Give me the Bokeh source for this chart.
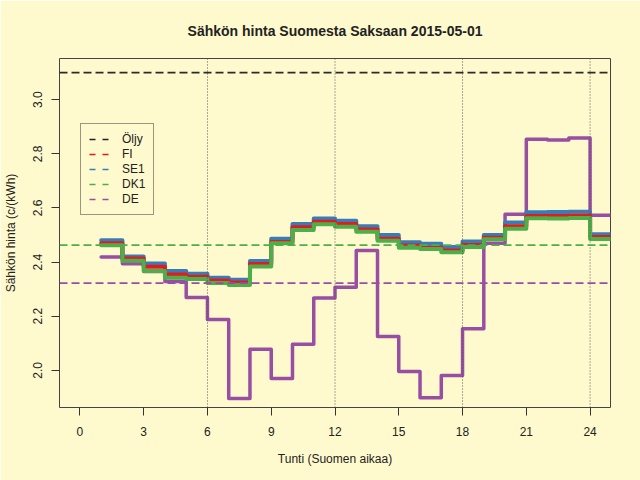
from bokeh.plotting import figure
from bokeh.models import Span, Legend, LegendItem, FixedTicker, NumeralTickFormatter, Range1d
from bokeh.embed import file_html
from bokeh.resources import INLINE

# ---- data ----
hours = list(range(1, 25))
fi  = [2.470, 2.413, 2.383, 2.354, 2.346, 2.332, 2.325, 2.393, 2.474, 2.529, 2.549, 2.541,
       2.520, 2.486, 2.461, 2.454, 2.443, 2.463, 2.490, 2.532, 2.570, 2.570, 2.572, 2.493]
se1 = [2.481, 2.421, 2.395, 2.367, 2.357, 2.342, 2.335, 2.404, 2.486, 2.541, 2.561, 2.553,
       2.532, 2.500, 2.473, 2.468, 2.456, 2.476, 2.500, 2.546, 2.584, 2.585, 2.586, 2.503]
dk1 = [2.462, 2.405, 2.367, 2.342, 2.338, 2.323, 2.315, 2.384, 2.470, 2.519, 2.540, 2.531,
       2.512, 2.479, 2.453, 2.448, 2.436, 2.456, 2.484, 2.523, 2.562, 2.561, 2.563, 2.485]
de  = [2.419, 2.394, 2.365, 2.328, 2.269, 2.188, 1.896, 2.078, 1.970, 2.097, 2.267, 2.307,
       2.443, 2.125, 1.996, 1.899, 1.981, 2.154, 2.470, 2.577, 2.854, 2.851, 2.858, 2.573]
oil_price = 3.10
dk1_mean = 2.463
de_mean = 2.322
x_ticks = [0, 3, 6, 9, 12, 15, 18, 21, 24]
y_ticks = [2.0, 2.2, 2.4, 2.6, 2.8, 3.0]
day_marks = [6, 12, 18, 24]
series_names = ["Öljy", "FI", "SE1", "DK1", "DE"]

BG = "#FFFACD"
FONT = "Liberation Sans"
TXT = "#222222"
C_FI, C_SE1, C_DK1, C_DE = "#E41A1C", "#377EB8", "#4DAF4A", "#984EA3"

p = figure(width=640, height=480, output_backend="svg", toolbar_location=None,
           x_range=Range1d(-0.96, 24.96), y_range=Range1d(1.863, 3.152),
           min_border_left=59, min_border_right=30, min_border_top=58, min_border_bottom=73,
           background_fill_color=BG, border_fill_color=BG,
           title="Sähkön hinta Suomesta Saksaan 2015-05-01")

p.grid.visible = False
p.outline_line_color = "#444444"
p.outline_line_width = 1

p.title.align = "center"
p.title.text_font = FONT
p.title.text_font_size = "14px"
p.title.text_font_style = "bold"
p.title.text_color = TXT
p.title.standoff = 40

for ax in (p.xaxis[0], p.yaxis[0]):
    ax.axis_line_color = None
    ax.major_tick_line_color = "#333333"
    ax.major_tick_out = 8
    ax.major_tick_in = 0
    ax.minor_tick_line_color = None
    ax.major_label_text_font = FONT
    ax.major_label_text_font_size = "12px"
    ax.major_label_text_color = TXT
    ax.axis_label_text_font = FONT
    ax.axis_label_text_font_size = "12px"
    ax.axis_label_text_font_style = "normal"
    ax.axis_label_text_color = TXT

p.xaxis.ticker = FixedTicker(ticks=x_ticks)
p.yaxis.ticker = FixedTicker(ticks=y_ticks)
p.yaxis.formatter = NumeralTickFormatter(format="0.0")
p.yaxis.major_label_orientation = "vertical"
p.xaxis.axis_label = "Tunti (Suomen aikaa)"
p.yaxis.axis_label = "Sähkön hinta (c/(kWh)"
p.xaxis.major_label_standoff = 11
p.xaxis.axis_label_standoff = 13
p.yaxis.major_label_standoff = 9
p.yaxis.axis_label_standoff = 13

# vertical dotted day-part lines
for d in day_marks:
    p.add_layout(Span(location=d, dimension="height", line_color="#555555",
                      line_width=1, line_dash="1 2"))

# horizontal reference lines
p.add_layout(Span(location=oil_price, dimension="width", line_color="#2a2a2a",
                  line_width=1.8, line_dash="8 4"))
p.add_layout(Span(location=dk1_mean, dimension="width", line_color=C_DK1,
                  line_width=1.8, line_dash="8 4"))
p.add_layout(Span(location=de_mean, dimension="width", line_color=C_DE,
                  line_width=1.8, line_dash="8 4"))

x_edges = hours + [hours[-1] + 1]

def ext(v):
    return v + [v[-1]]

p.step(x_edges, ext(de), mode="after", line_color=C_DE, line_width=3.5,
       line_join="round", line_cap="round")
p.step(x_edges, ext(se1), mode="after", line_color=C_SE1, line_width=4,
       line_join="round", line_cap="round")
p.step(x_edges, ext(fi), mode="after", line_color=C_FI, line_width=4,
       line_join="round", line_cap="round")
p.step(x_edges, ext(dk1), mode="after", line_color=C_DK1, line_width=4,
       line_join="round", line_cap="round")

# legend (dashed keys, as in the reference)
nan = float("nan")
leg_colors = ["#222222", C_FI, C_SE1, C_DK1, C_DE]
items = []
for name, col in zip(series_names, leg_colors):
    r = p.line(x=[nan], y=[nan], line_color=col, line_width=1.5, line_dash="6 7")
    items.append(LegendItem(label=name, renderers=[r]))

legend = Legend(items=items, location=(21, 192), glyph_width=20, glyph_height=14,
                label_height=14, spacing=1, padding=8, margin=0, label_standoff=13,
                border_line_color="#333333", border_line_width=1,
                background_fill_alpha=0,
                label_text_font=FONT, label_text_font_size="12px", label_text_color=TXT)
p.add_layout(legend)

open("out.html", "w").write(file_html(p, INLINE))
